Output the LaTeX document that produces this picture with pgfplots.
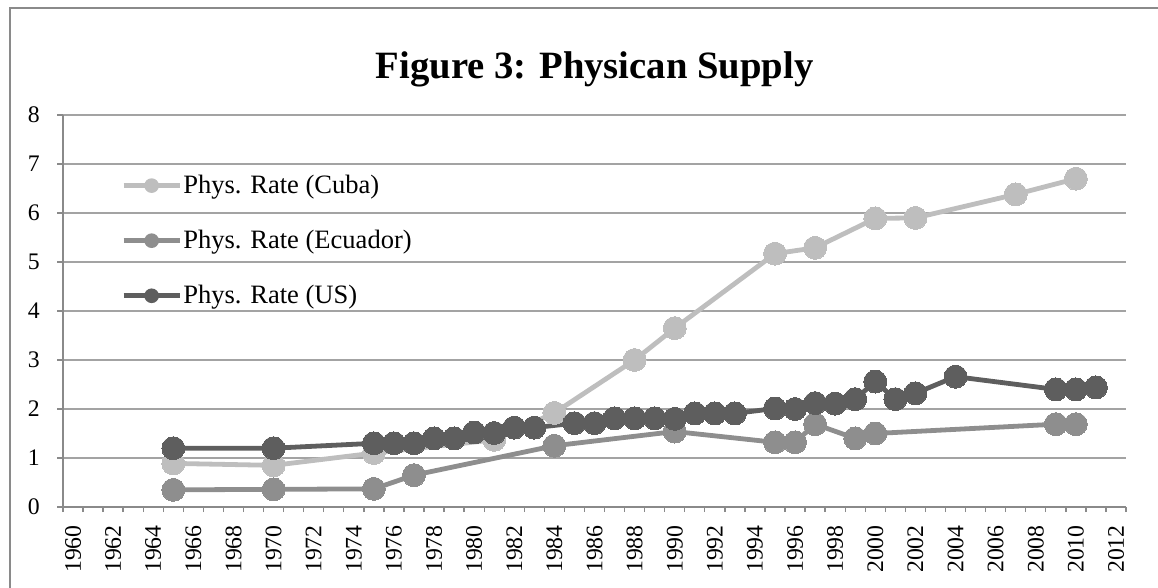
\documentclass[border=0pt]{standalone}
\usepackage{pgfplots}
\pgfplotsset{compat=1.18}
\usepackage{fontspec}
\setmainfont{Liberation Serif}
\definecolor{cuba}{HTML}{BEBEBE}
\definecolor{ecua}{HTML}{8E8E8E}
\definecolor{us}{HTML}{5E5E5E}
\definecolor{gridgray}{HTML}{A3A3A3}
\definecolor{axisgray}{HTML}{8A8A8A}
\begin{document}
\begin{tikzpicture}
\useasboundingbox (0pt,0pt) rectangle (868.5pt,-441pt);
\draw[axisgray, line width=1pt] (7.5pt,-6pt) rectangle (940pt,-480pt);
\node[font=\bfseries\fontsize{29}{34}\selectfont, anchor=base, inner sep=0pt] at (446pt,-59pt) {Figure 3: Physican Supply};
\begin{axis}[
  at={(47.25pt,-380.25pt)}, anchor=south west,
  scale only axis, width=797.25pt, height=294pt,
  xmin=1959.5, xmax=2012.5, ymin=0, ymax=8,
  axis x line*=bottom, axis y line*=left,
  axis line style={-, draw=axisgray, line width=1.1pt},
  tick align=outside,
  major tick length=4.5pt, minor tick length=3.75pt,
  tick style={draw=axisgray, line width=1pt},
  xtick={1960,1962,...,2012},
  minor xtick={1959.5,1960.5,...,2012.5},
  major x tick style={draw=none},
  ytick={0,1,...,8},
  ymajorgrids, major grid style={draw=gridgray, line width=1pt},
  /pgf/number format/assume math mode=true,
  /pgf/number format/1000 sep={},
  tick label style={font=\fontsize{17.8}{20}\selectfont, black},
  xticklabel style={rotate=90, anchor=east, inner xsep=9pt},
  yticklabel style={anchor=east, inner xsep=12.75pt},
  clip=false,
  legend cell align=left,
  legend style={at={(0.0546,0.850)}, anchor=north west, draw=none, fill=none,
    inner sep=0pt, row sep=24pt, font=\fontsize{19.9}{23}\selectfont,
    nodes={inner sep=1pt}},
  legend image code/.code={
    \draw[#1, mark=none, line width=3.5pt] (0pt,0pt) -- (42pt,0pt);
    \fill[#1, draw=none] (21pt,0pt) circle (5.5pt);
  },
]
\addplot[color=cuba, line width=3.6pt, mark=*, mark size=8.6pt, mark options={solid, line width=0pt}] coordinates {
(1965,0.89) (1970,0.85) (1975,1.10) (1981,1.37) (1984,1.92) (1988,3.00) (1990,3.65)
(1995,5.17) (1997,5.29) (2000,5.89) (2002,5.90) (2007,6.38) (2010,6.70)};
\addlegendentry{Phys. Rate (Cuba)}
\addplot[color=ecua, line width=3.6pt, mark=*, mark size=8.6pt, mark options={solid, line width=0pt}] coordinates {
(1965,0.35) (1970,0.36) (1975,0.37) (1977,0.65) (1984,1.25) (1990,1.54) (1995,1.32)
(1996,1.32) (1997,1.69) (1999,1.40) (2000,1.50) (2009,1.69) (2010,1.69)};
\addlegendentry{Phys. Rate (Ecuador)}
\addplot[color=us, line width=3.6pt, mark=*, mark size=8.6pt, mark options={solid, line width=0pt}] coordinates {
(1965,1.20) (1970,1.20) (1975,1.30) (1976,1.30) (1977,1.30) (1978,1.40) (1979,1.40)
(1980,1.52) (1981,1.51) (1982,1.62) (1983,1.62) (1985,1.71) (1986,1.71) (1987,1.81)
(1988,1.81) (1989,1.81) (1990,1.80) (1991,1.91) (1992,1.91) (1993,1.91) (1995,2.01)
(1996,2.00) (1997,2.12) (1998,2.11) (1999,2.20) (2000,2.56) (2001,2.20) (2002,2.32)
(2004,2.66) (2009,2.40) (2010,2.40) (2011,2.44)};
\addlegendentry{Phys. Rate (US)}
\end{axis}
\end{tikzpicture}
\end{document}
